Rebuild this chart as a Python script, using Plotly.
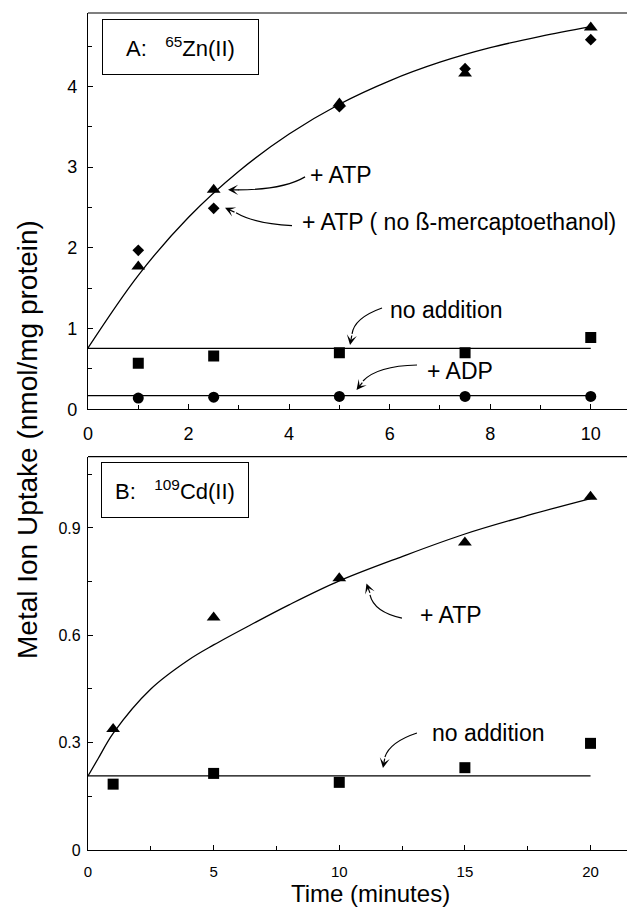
import plotly.graph_objects as go

# ---------------- data ----------------
zn_t = [1, 2.5, 5, 7.5, 10]
zn_atp = [1.77, 2.72, 3.79, 4.16, 4.73]
zn_atp_no_me = [1.97, 2.49, 3.75, 4.22, 4.58]
zn_no_addition = [0.57, 0.66, 0.70, 0.70, 0.89]
zn_adp = [0.14, 0.15, 0.16, 0.16, 0.16]

zn_fit_t = [0, 1, 2, 3, 4, 5, 6, 7, 8, 9, 10]
zn_fit_atp = [0.76, 1.66, 2.38, 2.95, 3.41, 3.78, 4.07, 4.30, 4.48, 4.62, 4.74]
zn_line_t = [0, 10]
zn_fit_no_addition = [0.755, 0.755]
zn_fit_adp = [0.17, 0.17]

cd_t = [1, 5, 10, 15, 20]
cd_atp = [0.338, 0.650, 0.759, 0.859, 0.987]
cd_no_addition = [0.184, 0.214, 0.189, 0.230, 0.298]

cd_fit_t = [0, 0.4, 1, 2.5, 4, 5, 6.5, 8, 10, 12.5, 15, 17.5, 20]
cd_fit_atp = [0.207, 0.255, 0.326, 0.45, 0.531, 0.573, 0.630, 0.685, 0.752, 0.82, 0.883, 0.935, 0.982]
cd_line_t = [0, 20]
cd_fit_no_addition = [0.207, 0.207]

zn_xticks = [0, 2, 4, 6, 8, 10]
zn_yticks = [0, 1, 2, 3, 4]
cd_xticks = [0, 5, 10, 15, 20]
cd_yticks = [0, 0.3, 0.6, 0.9]

FONT = "Liberation Sans, Arial, Helvetica, sans-serif"
BLACK = "black"

fig = go.Figure()

def line(x, y, xa, ya, shape="linear"):
    fig.add_trace(go.Scatter(x=x, y=y, mode="lines", xaxis=xa, yaxis=ya,
                             line=dict(color=BLACK, width=1.3, shape=shape),
                             showlegend=False, hoverinfo="skip"))

def pts(x, y, xa, ya, symbol, size):
    fig.add_trace(go.Scatter(x=x, y=y, mode="markers", xaxis=xa, yaxis=ya,
                             marker=dict(symbol=symbol, size=size, color=BLACK,
                                         line=dict(width=0)),
                             showlegend=False))

# Panel A
line(zn_fit_t, zn_fit_atp, "x", "y", "spline")
line(zn_line_t, zn_fit_no_addition, "x", "y")
line(zn_line_t, zn_fit_adp, "x", "y")
pts(zn_t, zn_atp_no_me, "x", "y", "diamond", 9)
pts(zn_t, zn_atp, "x", "y", "triangle-up", 12)
pts(zn_t, zn_no_addition, "x", "y", "square", 11)
pts(zn_t, zn_adp, "x", "y", "circle", 11)

# Panel B
line(cd_fit_t, cd_fit_atp, "x2", "y2", "spline")
line(cd_line_t, cd_fit_no_addition, "x2", "y2")
pts(cd_t, cd_atp, "x2", "y2", "triangle-up", 12)
pts(cd_t, cd_no_addition, "x2", "y2", "square", 11)

axis_common = dict(showline=True, linecolor=BLACK, linewidth=1.2, ticks="inside",
                   ticklen=5, tickwidth=1, tickcolor=BLACK, showgrid=False,
                   zeroline=False, color=BLACK)

top_dom = [0.5265, 1.0]
bot_dom = [0.0, 0.4699]

# page body has an 8px margin: figure is 627x899 so the plot area lands where the reference has it
fig.update_layout(
    width=627, height=899,
    margin=dict(l=80, r=0, t=5, b=57),
    plot_bgcolor="white", paper_bgcolor="white",
    font=dict(family=FONT, color=BLACK),
    xaxis=dict(axis_common, domain=[0, 1], anchor="y", range=[0, 10.88],
               tickvals=zn_xticks, tickfont=dict(size=18),
               minor=dict(dtick=1, ticks="inside", ticklen=4, tickcolor=BLACK),
               ticklabelstandoff=8),
    yaxis=dict(axis_common, domain=top_dom, anchor="x", range=[0, 4.91],
               tickvals=zn_yticks, tickfont=dict(size=18),
               minor=dict(dtick=0.5, ticks="inside", ticklen=4, tickcolor=BLACK),
               ticklabelstandoff=6),
    xaxis2=dict(axis_common, domain=[0, 1], anchor="y2", range=[0, 21.77],
                tickvals=cd_xticks, tickfont=dict(size=15),
                minor=dict(dtick=2.5, ticks="inside", ticklen=4, tickcolor=BLACK),
                ticklabelstandoff=8),
    yaxis2=dict(axis_common, domain=bot_dom, anchor="x2", range=[0, 1.099],
                tickvals=cd_yticks, tickfont=dict(size=16),
                minor=dict(dtick=0.15, ticks="inside", ticklen=4, tickcolor=BLACK),
                ticklabelstandoff=3),
)

shapes = []
# top spines
for xr, yr in (("x domain", "y domain"), ("x2 domain", "y2 domain")):
    shapes.append(dict(type="line", xref=xr, yref=yr, x0=0, x1=1, y0=1, y1=1,
                       line=dict(color=BLACK, width=1.2)))

# curved arrow shafts: (xref, yref, start, control, end)
curves = [
    ("x", "y", (4.317, 2.880), (3.879, 2.719), (2.984, 2.719)),
    ("x", "y", (4.058, 2.277), (3.322, 2.297), (2.944, 2.435)),
    ("x", "y", (5.848, 1.256), (5.291, 1.132), (5.252, 0.934)),
    ("x", "y", (6.545, 0.549), (5.749, 0.537), (5.470, 0.351)),
    ("x2", "y2", (12.495, 0.648), (11.381, 0.665), (11.222, 0.713)),
    ("x2", "y2", (13.092, 0.327), (12.017, 0.302), (11.818, 0.260)),
]
for xr, yr, s, c, e in curves:
    shapes.append(dict(type="path", xref=xr, yref=yr,
                       path=f"M {s[0]},{s[1]} Q {c[0]},{c[1]} {e[0]},{e[1]}",
                       line=dict(color=BLACK, width=1.2)))
fig.update_layout(shapes=shapes)

ann = []
# arrow heads: (xref, yref, tip, ax, ay)
heads = [
    ("x", "y", (2.785, 2.719), 12, 0),
    ("x", "y", (2.725, 2.496), 11, 5),
    ("x", "y", (5.212, 0.797), 2, -11),
    ("x", "y", (5.341, 0.239), 7, -9),
    ("x2", "y2", (11.082, 0.745), 4, 11),
    ("x2", "y2", (11.739, 0.229), 2, -11),
]
for xr, yr, tip, ax, ay in heads:
    ann.append(dict(xref=xr, yref=yr, x=tip[0], y=tip[1], ax=ax, ay=ay, text="",
                    showarrow=True, arrowhead=3, arrowsize=1.4, arrowwidth=1.2,
                    arrowcolor=BLACK, standoff=0))

labels = [
    ("x", "y", 4.376, 2.905, "+ ATP"),
    ("x", "y", 4.217, 2.322, "+ ATP ( no ß-mercaptoethanol)"),
    ("x", "y", 5.968, 1.231, "no addition"),
    ("x", "y", 6.704, 0.475, "+ ADP"),
    ("x2", "y2", 13.13, 0.657, "+ ATP"),
    ("x2", "y2", 13.61, 0.327, "no addition"),
]
for xr, yr, x, y, t in labels:
    ann.append(dict(xref=xr, yref=yr, x=x, y=y, text=t, showarrow=False,
                    xanchor="left", yanchor="middle",
                    font=dict(size=23, family=FONT, color=BLACK)))

# panel label boxes
ann.append(dict(xref="x", yref="y", x=1.830, y=4.486,
                text="A:&nbsp;&nbsp;&nbsp;<sup>65</sup>Zn(II)", showarrow=False,
                width=155, height=54, borderpad=0, bordercolor=BLACK, borderwidth=1,
                bgcolor="white", align="center", valign="middle",
                font=dict(size=22, family=FONT, color=BLACK)))
ann.append(dict(xref="x2", yref="y2", x=3.482, y=1.007,
                text="B:&nbsp;&nbsp;&nbsp;<sup>109</sup>Cd(II)", showarrow=False,
                width=146, height=54, borderpad=0, bordercolor=BLACK, borderwidth=1,
                bgcolor="white", align="center", valign="middle",
                font=dict(size=22, family=FONT, color=BLACK)))

# axis titles
ann.append(dict(xref="paper", yref="paper", x=(27 - 88) / 547, y=(850 - 440) / 837,
                text="Metal Ion Uptake (nmol/mg protein)", textangle=-90,
                showarrow=False, xanchor="center", yanchor="middle",
                font=dict(size=28, family=FONT, color=BLACK)))
ann.append(dict(xref="paper", yref="paper", x=(370.5 - 88) / 547, y=(850 - 893) / 837,
                text="Time (minutes)", showarrow=False,
                xanchor="center", yanchor="middle",
                font=dict(size=24, family=FONT, color=BLACK)))

fig.update_layout(annotations=ann)

fig.write_html("out.html")
